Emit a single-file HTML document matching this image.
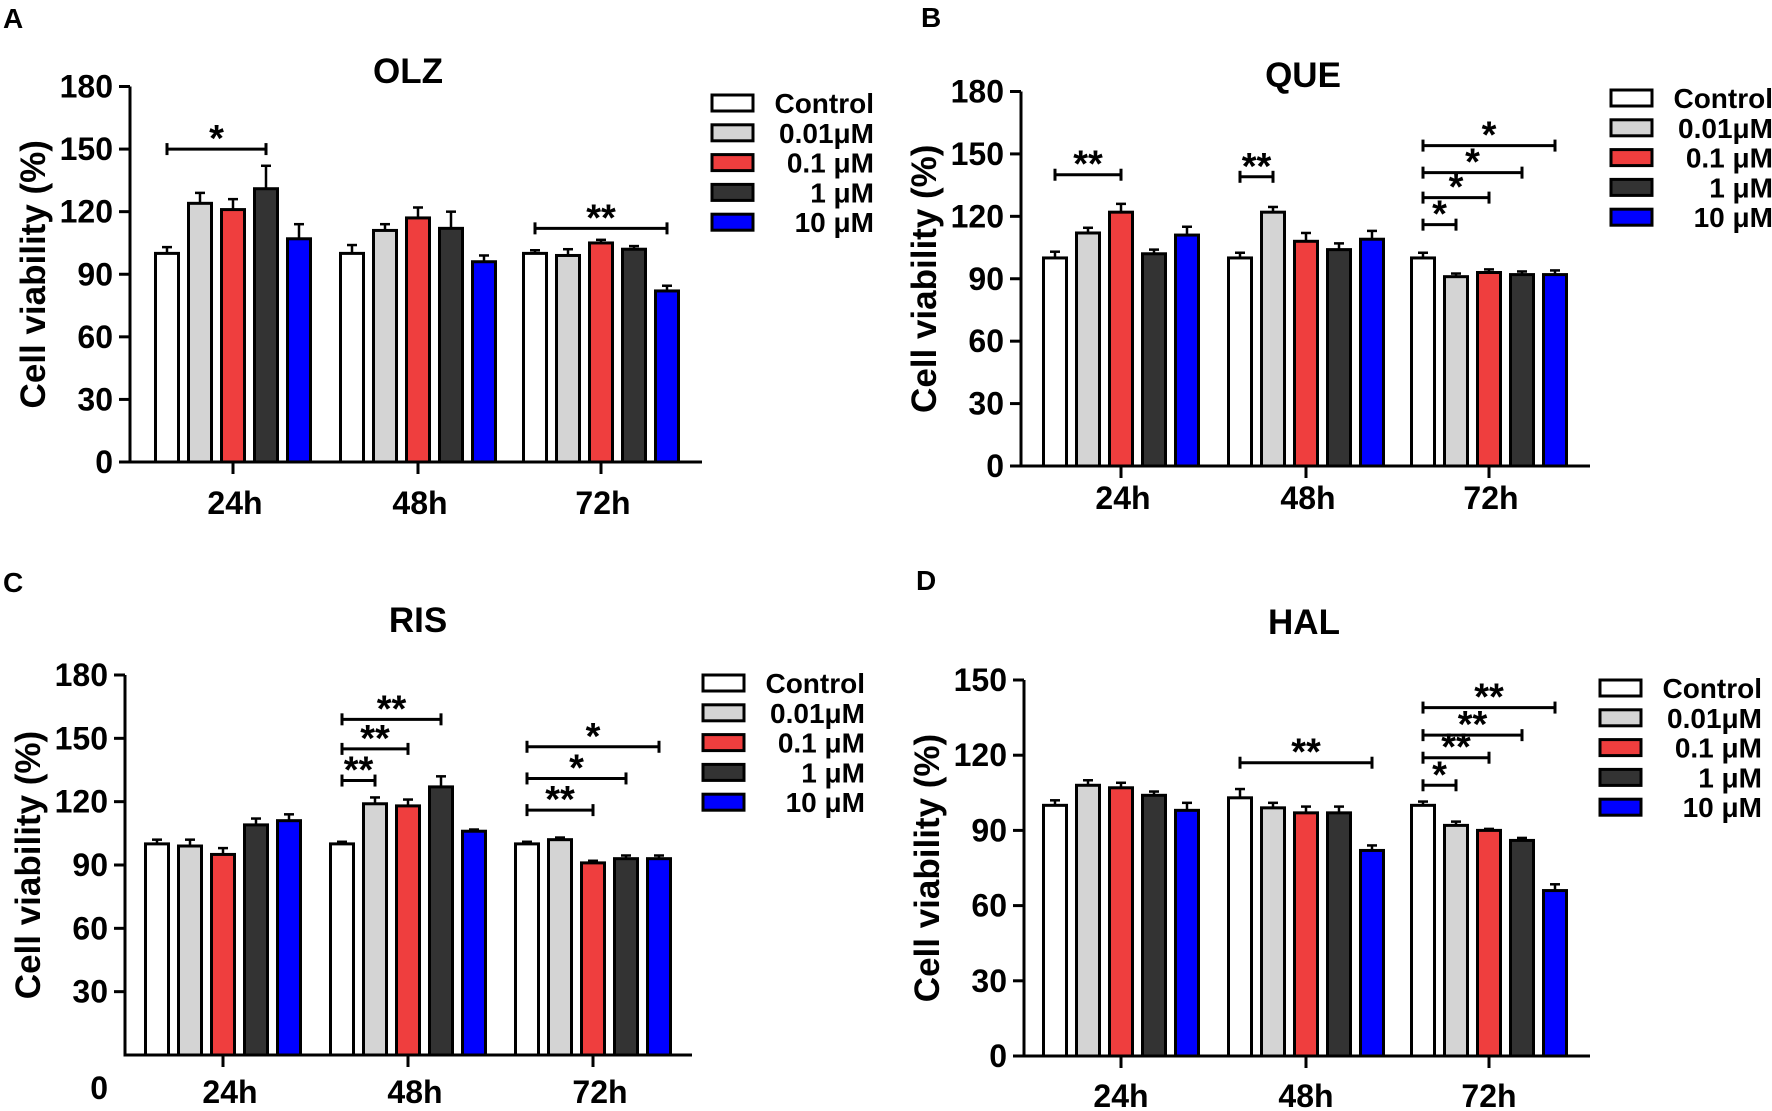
<!DOCTYPE html>
<html><head><meta charset="utf-8"><style>
html,body{margin:0;padding:0;background:#fff;}
svg{display:block;font-family:"Liberation Sans",Arial,sans-serif;font-weight:bold;}
</style></head><body>
<svg id="fig" width="1772" height="1111" viewBox="0 0 1772 1111" xmlns="http://www.w3.org/2000/svg"></svg>
<script>
const groups = ["24h","48h","72h"];
const seriesNames = ["Control","0.01\u03bcM","0.1 \u03bcM","1   \u03bcM","10  \u03bcM"];
const seriesColors = ["#ffffff","#d4d4d4","#ef3e3e","#333333","#0000ff"];

const olzMeans = [[100,124,121,131,107],[100,111,117,112,96],[100,99,105,102,82]];
const olzErr   = [[3,5,5,11,7],[4,3,5,8,3],[1.5,3,1.5,1.5,2.5]];
const olzSig   = [[0,0,3,150,"*"],[2,0,4,112,"**"]];

const queMeans = [[100,112,122,102,111],[100,122,108,104,109],[100,91,93,92,92]];
const queErr   = [[3,2.5,4,2,4],[2.5,2.5,4,3,4],[2.5,1.5,1.5,1.5,2]];
const queSig   = [[0,0,2,140,"**"],[1,0,1,139,"**"],[2,0,1,116,"*"],[2,0,2,129,"*"],[2,0,3,141,"*"],[2,0,4,154,"*"]];

const risMeans = [[100,99,95,109,111],[100,119,118,127,106],[100,102,91,93,93]];
const risErr   = [[2,3,3,3,3],[1,3,3,5,0.8],[1,1,1,1.5,1.5]];
const risSig   = [[1,0,1,130,"**"],[1,0,2,145,"**"],[1,0,3,159,"**"],[2,0,2,116,"**"],[2,0,3,131,"*"],[2,0,4,146,"*"]];

const halMeans = [[100,108,107,104,98],[103,99,97,97,82],[100,92,90,86,66]];
const halErr   = [[2,2,2,1.5,3],[3.5,2,2.5,2.5,2],[1.5,1.5,0.6,1,2.5]];
const halSig   = [[1,0,4,117,"**"],[2,0,1,108,"*"],[2,0,2,119,"**"],[2,0,3,128,"**"],[2,0,4,139,"**"]];

const yTicks180 = [0,30,60,90,120,150,180];
const yTicks150 = [0,30,60,90,120,150];

const NS="http://www.w3.org/2000/svg";
const svg=document.getElementById('fig');
function mk(tag,attrs,parent){const e=document.createElementNS(NS,tag);for(const k in attrs)e.setAttribute(k,attrs[k]);(parent||svg).appendChild(e);return e;}

function panel(cfg){
  const g=mk('g',{});
  
  
  const ymax=cfg.ticks[cfg.ticks.length-1];
  const Y=v=>cfg.y0-(v/ymax)*(cfg.y0-cfg.yTop);
  const X=(gi,si)=>cfg.centers[gi]+(si-2)*33;
  let t=mk('text',{x:cfg.letter[0],y:cfg.letter[1],'font-size':28},g);t.textContent=cfg.L;
  
  t=mk('text',{x:cfg.title[0],y:cfg.title[1],'font-size':35,'text-anchor':'middle'},g);t.textContent=cfg.name;
  
  const cy=(cfg.y0+cfg.yTop)/2;
  const lx=cfg.ax-97;
  t=mk('text',{x:lx,y:cy,'font-size':35,'text-anchor':'middle',transform:`rotate(-90 ${lx} ${cy})`,dy:12},g);
  t.textContent='Cell viability (%)';
  
  let l=mk('line',{x1:cfg.ax,y1:cfg.yTop,x2:cfg.ax,y2:cfg.y0+1.5,stroke:'#000','stroke-width':3},g);
  
  cfg.ticks.forEach(v=>{
    if(v===0&&cfg.zeroLow){return;}
    mk('line',{x1:cfg.ax-11,y1:Y(v),x2:cfg.ax,y2:Y(v),stroke:'#000','stroke-width':3},g);
    const tt=mk('text',{x:cfg.ax-17,y:Y(v)+11,'font-size':32,'text-anchor':'end'},g);tt.textContent=v;
    
  });
  if(cfg.zeroLow){const tt=mk('text',{x:cfg.ax-17,y:cfg.y0+44,'font-size':32,'text-anchor':'end'},g);tt.textContent='0';
    }
  cfg.means.forEach((grp,gi)=>{
    grp.forEach((v,si)=>{
      const x=X(gi,si), e=cfg.err[gi][si];
      mk('line',{x1:x,y1:Y(v),x2:x,y2:Y(v+e),stroke:'#000','stroke-width':2.5},g);
      mk('line',{x1:x-5,y1:Y(v+e),x2:x+5,y2:Y(v+e),stroke:'#000','stroke-width':2.5},g);
      const r=mk('rect',{x:x-11.5,y:Y(v),width:23,height:cfg.y0-Y(v),fill:seriesColors[si],stroke:'#000','stroke-width':3},g);
      
    });
  });
  l=mk('line',{x1:cfg.ax-1.5,y1:cfg.y0,x2:cfg.axEnd,y2:cfg.y0,stroke:'#000','stroke-width':3},g);
  
  groups.forEach((gname,gi)=>{
    mk('line',{x1:cfg.centers[gi],y1:cfg.y0,x2:cfg.centers[gi],y2:cfg.y0+12,stroke:'#000','stroke-width':3},g);
    const tt=mk('text',{x:cfg.centers[gi]+cfg.lblShift,y:cfg.xLblY,'font-size':32,'text-anchor':'middle'},g);tt.textContent=gname;
    
  });
  cfg.sig.forEach(s=>{
    const x1=X(s[0],s[1]),x2=X(s[0],s[2]),y=Y(s[3]);
    const b=mk('g',{},b0=g);
    
    mk('line',{x1:x1,y1:y,x2:x2,y2:y,stroke:'#000','stroke-width':3},b);
    mk('line',{x1:x1,y1:y-6,x2:x1,y2:y+6,stroke:'#000','stroke-width':3},b);
    mk('line',{x1:x2,y1:y-6,x2:x2,y2:y+6,stroke:'#000','stroke-width':3},b);
    const tt=mk('text',{x:(x1+x2)/2,y:y+2,'font-size':38,'text-anchor':'middle'},b);tt.textContent=s[4];
  });
  seriesNames.forEach((n,si)=>{
    const lg=mk('g',{},g);
    
    const cyy=cfg.legY+si*29.8;
    mk('rect',{x:cfg.legX,y:cyy-8,width:41,height:16,fill:seriesColors[si],stroke:'#000','stroke-width':3},lg);
    const tt=mk('text',{x:cfg.legX+162,y:cyy+10,'font-size':28,'text-anchor':'end','xml:space':'preserve'},lg);
    tt.textContent=n;
  });
}

panel({id:'olz',L:'A',name:'OLZ',letter:[3,28],title:[408,83],ax:130,axEnd:702,y0:462,yTop:86.5,ticks:yTicks180,
  centers:[233,418,601],lblShift:2,xLblY:514,means:olzMeans,err:olzErr,sig:olzSig,legX:712,legY:103});
panel({id:'que',L:'B',name:'QUE',letter:[921,27],title:[1303,87],ax:1021,axEnd:1590,y0:466,yTop:91.5,ticks:yTicks180,
  centers:[1121,1306,1489],lblShift:2,xLblY:509,means:queMeans,err:queErr,sig:queSig,legX:1611,legY:98});
panel({id:'ris',L:'C',name:'RIS',letter:[3,592],title:[418,632],ax:125,axEnd:692,y0:1055,yTop:675,ticks:yTicks180,zeroLow:true,
  centers:[223,408,593],lblShift:7,xLblY:1103,means:risMeans,err:risErr,sig:risSig,legX:703,legY:683});
panel({id:'hal',L:'D',name:'HAL',letter:[916,590],title:[1304,634],ax:1024,axEnd:1590,y0:1056,yTop:680,ticks:yTicks150,
  centers:[1121,1306,1489],lblShift:0,xLblY:1107,means:halMeans,err:halErr,sig:halSig,legX:1600,legY:688});
</script>
</body></html>
